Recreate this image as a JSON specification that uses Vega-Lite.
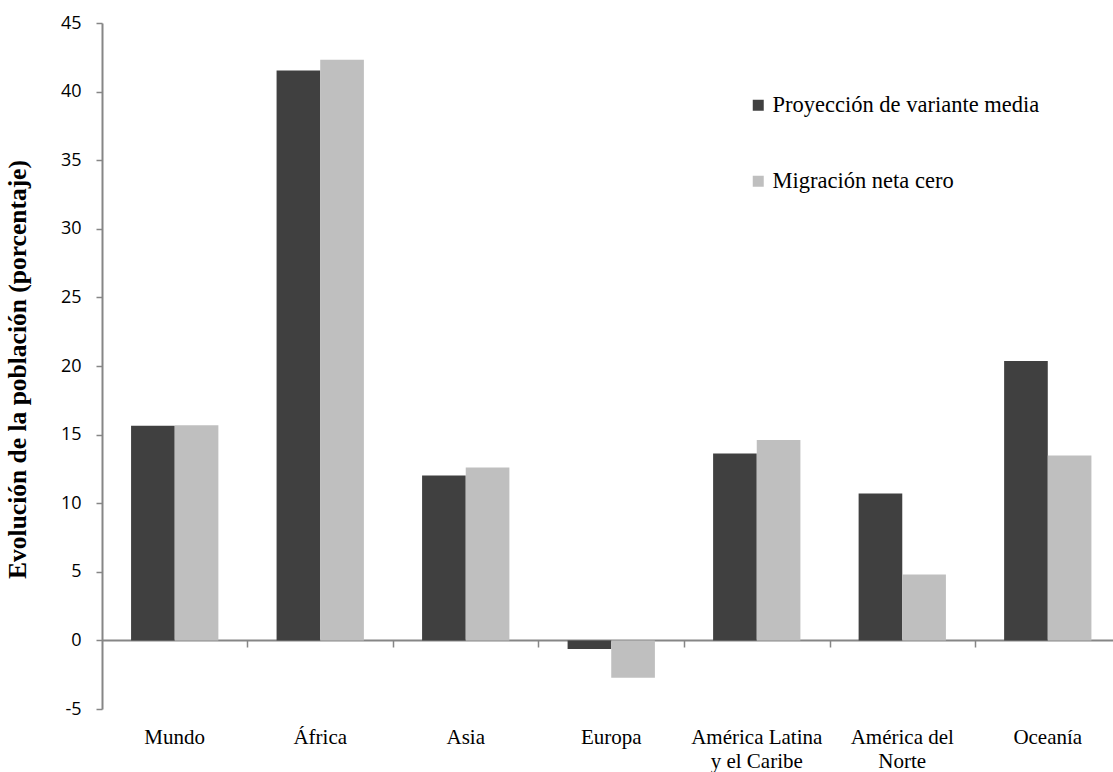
{
  "$schema": "https://vega.github.io/schema/vega-lite/v6.json",
  "width": 1011,
  "height": 686,
  "autosize": "none",
  "padding": {"left": 102, "top": 23, "right": 0, "bottom": 63},
  "background": "white",
  "config": {"view": {"stroke": null}},
  "data": {
    "values": [
      {"region": "Mundo", "serie": "Proyección de variante media", "valor": 15.64},
      {"region": "Mundo", "serie": "Migración neta cero", "valor": 15.69},
      {"region": "África", "serie": "Proyección de variante media", "valor": 41.54},
      {"region": "África", "serie": "Migración neta cero", "valor": 42.32},
      {"region": "Asia", "serie": "Proyección de variante media", "valor": 12.02},
      {"region": "Asia", "serie": "Migración neta cero", "valor": 12.6},
      {"region": "Europa", "serie": "Proyección de variante media", "valor": -0.63},
      {"region": "Europa", "serie": "Migración neta cero", "valor": -2.72},
      {"region": "América Latina y el Caribe", "serie": "Proyección de variante media", "valor": 13.63},
      {"region": "América Latina y el Caribe", "serie": "Migración neta cero", "valor": 14.6},
      {"region": "América del Norte", "serie": "Proyección de variante media", "valor": 10.71},
      {"region": "América del Norte", "serie": "Migración neta cero", "valor": 4.81},
      {"region": "Oceanía", "serie": "Proyección de variante media", "valor": 20.37},
      {"region": "Oceanía", "serie": "Migración neta cero", "valor": 13.48}
    ]
  },
  "resolve": {"axis": {"x": "independent"}},
  "layer": [
    {
      "mark": {"type": "bar"},
      "encoding": {
        "x": {
          "field": "region",
          "type": "nominal",
          "sort": null,
          "scale": {"paddingInner": 0.4, "paddingOuter": 0.174, "align": 0.574},
          "axis": {
            "orient": "bottom",
            "title": null,
            "domain": false,
            "ticks": false,
            "labelAngle": 0,
            "labelFont": "Liberation Serif",
            "labelFontSize": 21,
            "labelColor": "#000000",
            "labelPadding": 17,
            "labelLineHeight": 24,
            "labelLimit": 0,
            "labelExpr": "datum.value == 'América Latina y el Caribe' ? ['América Latina', 'y el Caribe'] : datum.value == 'América del Norte' ? ['América del', 'Norte'] : datum.value"
          }
        },
        "xOffset": {"field": "serie", "type": "nominal", "sort": ["Proyección de variante media", "Migración neta cero"]},
        "y": {
          "field": "valor",
          "type": "quantitative",
          "scale": {"domain": [-5, 45], "nice": false, "zero": true},
          "axis": {
            "title": "Evolución de la población (porcentaje)",
            "titleFont": "Liberation Serif",
            "titleFontSize": 25.5,
            "titleFontWeight": "bold",
            "titleColor": "#000000",
            "titleX": -85,
            "titleY": 346,
            "titleAngle": -90,
            "titleAlign": "center",
            "titleBaseline": "middle",
            "values": [-5, 0, 5, 10, 15, 20, 25, 30, 35, 40, 45],
            "grid": false,
            "domainColor": "#868686",
            "domainWidth": 2,
            "tickColor": "#868686",
            "tickSize": 6,
            "tickWidth": 1.5,
            "labelFont": "Open Sans",
            "labelFontSize": 18,
            "labelColor": "#000000",
            "labelPadding": 15,
            "labelExpr": "replace(datum.label, '−', '-')"
          }
        },
        "color": {
          "field": "serie",
          "type": "nominal",
          "sort": ["Proyección de variante media", "Migración neta cero"],
          "scale": {"domain": ["Proyección de variante media", "Migración neta cero"], "range": ["#404040", "#bfbfbf"]},
          "legend": {
            "orient": "none",
            "legendX": 645,
            "legendY": 71,
            "title": null,
            "symbolType": "square",
            "symbolSize": 121,
            "symbolStrokeWidth": 0,
            "labelFont": "Liberation Serif",
            "labelFontSize": 22.5,
            "labelColor": "#000000",
            "labelOffset": 3,
            "rowPadding": 53,
            "labelLimit": 0
          }
        }
      }
    },
    {
      "mark": {"type": "point", "opacity": 0},
      "encoding": {
        "x": {
          "field": "region",
          "type": "nominal",
          "sort": null,
          "axis": {
            "orient": "bottom",
            "offset": -69,
            "title": null,
            "labels": false,
            "domain": true,
            "domainColor": "#868686",
            "domainWidth": 2,
            "ticks": true,
            "tickOffset": 72.75,
            "tickColor": "#868686",
            "tickSize": 7,
            "tickWidth": 1.5
          }
        },
        "y": {"datum": 0, "type": "quantitative"}
      }
    }
  ]
}
